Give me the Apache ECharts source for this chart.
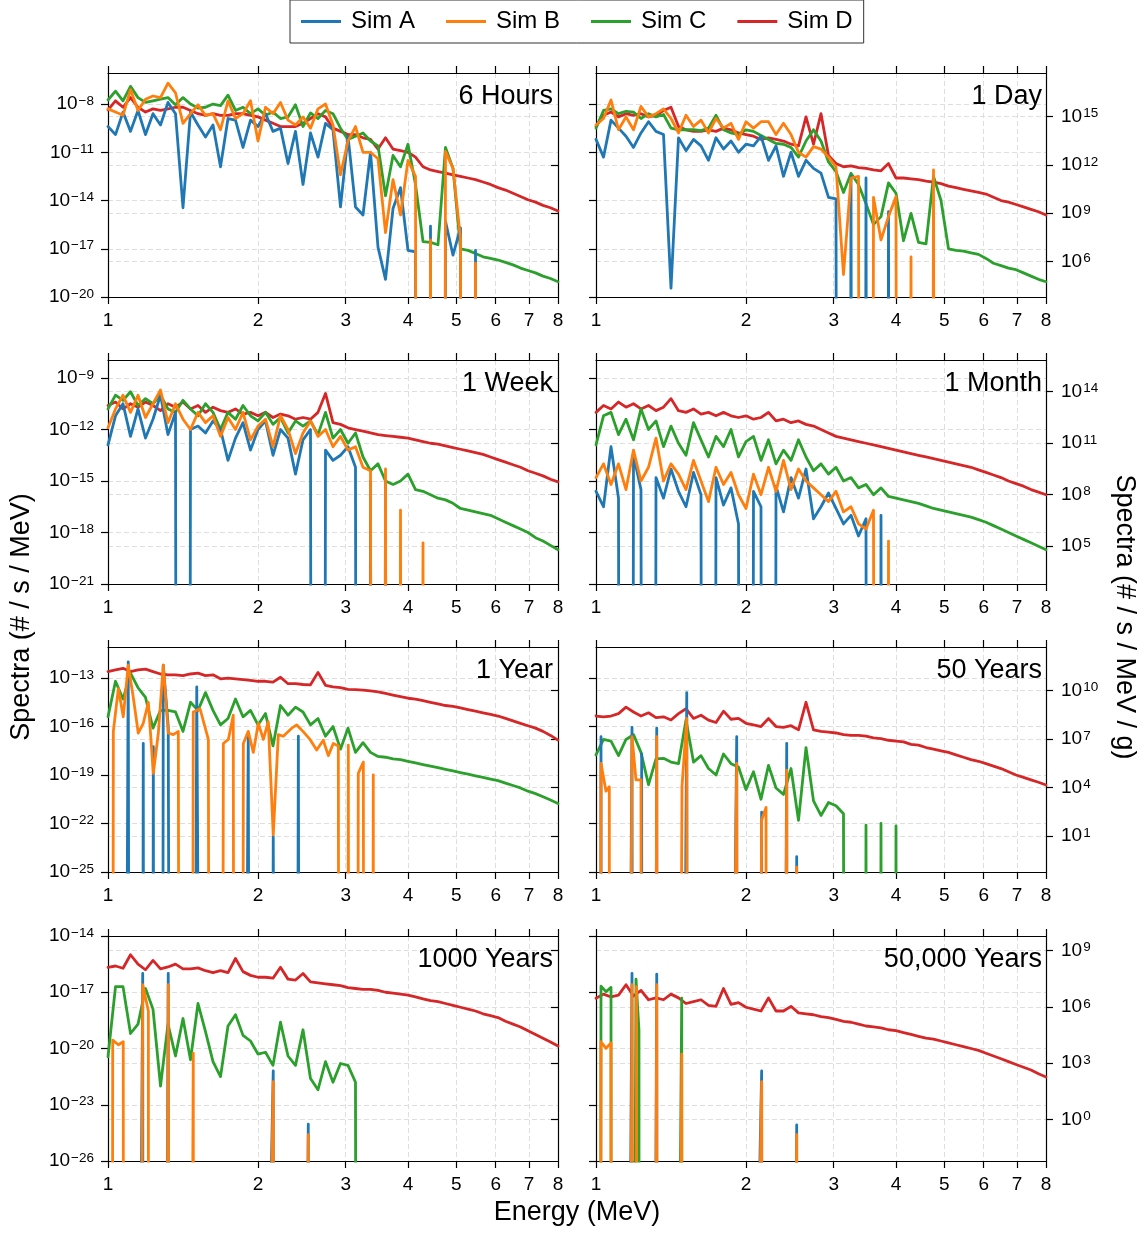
<!DOCTYPE html>
<html>
<head>
<meta charset="utf-8">
<title>Spectra</title>
<script src="https://cdn.jsdelivr.net/npm/echarts@6/dist/echarts.min.js"></script>
<style>
html, body { margin: 0; background: #fff; }
#chart { width: 1145px; height: 1235px; }
</style>
</head>
<body>
<div id="chart"></div>
<script>
// all spectra are log10(# / s / MeV); Z marks an empty bin (log10 of 0)
const Z = -Infinity;

// energy bins (MeV) shared by the dense series
const energy = [1.0000, 1.0353, 1.0718, 1.1096, 1.1487, 1.1892, 1.2311, 1.2746, 1.3195, 1.3661,
  1.4142, 1.4641, 1.5157, 1.5692, 1.6245, 1.6818, 1.7411, 1.8025, 1.8661, 1.9319,
  2.0000, 2.0705, 2.1435, 2.2191, 2.2974, 2.3784, 2.4623, 2.5491, 2.6390, 2.7321,
  2.8284, 2.9282, 3.0314, 3.1383, 3.2490, 3.3636, 3.4822, 3.6050, 3.7321, 3.8637,
  4.0000, 4.1411, 4.2871, 4.4383, 4.5948, 4.7568, 4.9246, 5.0982, 5.2780, 5.4642,
  5.6569, 5.8563, 6.0629, 6.2767, 6.4980, 6.7272, 6.9644, 7.2100, 7.4643, 7.7275,
  8.0000];

// ---- 6 Hours
const a6h = [-9.4, -9.9, -8.5, -9.7, -8.4, -9.9, -8.6, -9.3, -7.9, -8.6,
  -14.45, -8.5, -9.3, -10.05, -9.3, -11.9, -8.9, -9.0, -10.7, -9.0,
  -9.4, -8.6, -9.7, -9.5, -11.7, -9.7, -13.0, -9.8, -11.3, -9.2,
  -9.6, -14.4, -10.0, -14.4, -14.9, -11.0, -16.9, -18.9, -14.5, -13.2,
  -17.1, -17.2, Z, -15.6, Z, -15.3, -17.4, -15.7, Z, -17.1,
  Z, Z, Z, Z, Z, Z, Z, Z, Z, Z, Z];
const b6h = [-8.3, -8.5, -8.7, -7.1, -8.4, -7.7, -7.5, -7.6, -6.7, -7.3,
  -9.2, -8.6, -8.05, -8.7, -8.6, -9.6, -7.8, -8.9, -8.6, -7.8,
  -10.3, -8.2, -8.6, -7.9, -9.0, -9.3, -8.8, -9.5, -8.3, -8.0,
  -9.3, -12.4, -10.3, -9.4, -11.0, -11.0, -11.4, -16.0, -12.7, -14.9,
  -11.5, -12.5, Z, -16.45, Z, -10.95, -12.0, -16.35, Z, -17.9,
  Z, Z, Z, Z, Z, Z, Z, Z, Z, Z, Z];
const c6h = [-7.75, -7.2, -7.8, -6.9, -7.6, -7.9, -7.8, -7.7, -7.6, -8.05,
  -7.6, -8.0, -8.25, -8.2, -8.0, -8.1, -7.45, -8.4, -8.2, -8.6,
  -8.3, -8.7, -8.5, -8.9, -8.8, -8.05, -9.4, -8.55, -8.9, -8.4,
  -8.6, -9.5, -10.2, -10.0, -9.8, -10.3, -10.6, -13.7, -11.2, -11.9,
  -10.5, -13.0, -16.55, -16.6, -16.75, -10.7, -12.0, -17.0, -17.1, -17.3,
  -17.5, -17.6, -17.7, -17.85, -18.0, -18.2, -18.35, -18.5, -18.7, -18.85,
  -19.05];
const d6h = [-8.37, -7.8, -8.2, -7.6, -8.2, -8.5, -8.3, -8.4, -8.3, -8.2,
  -8.2, -8.4, -8.6, -8.7, -8.6, -8.7, -8.7, -8.6, -8.6, -8.7,
  -8.8, -9.0, -9.2, -9.4, -9.4, -9.4, -9.2, -8.9, -8.6, -8.8,
  -9.5, -9.7, -9.9, -9.9, -10.1, -10.2, -10.8, -10.1, -10.8, -10.9,
  -11.0, -11.3, -11.9, -12.1, -12.2, -12.3, -12.4, -12.5, -12.6, -12.7,
  -12.85, -13.0, -13.2, -13.35, -13.55, -13.75, -13.95, -14.1, -14.3, -14.45,
  -14.65];

// ---- 1 Day
const a1d = [-10.2, -11.3, -9.0, -9.5, -10.0, -10.7, -9.8, -9.1, -9.7, -9.9,
  -19.45, -10.1, -10.9, -10.2, -10.6, -11.5, -10.1, -10.8, -10.3, -11.0,
  -10.5, -10.6, -10.0, -11.5, -10.6, -12.5, -11.0, -12.5, -11.5, -12.0,
  -12.3, -13.8, -13.9, Z, -12.5, Z, -12.6, Z, Z, -14.7,
  Z, Z, Z, Z, Z, Z, Z, Z, Z, Z,
  Z, Z, Z, Z, Z, Z, Z, Z, Z, Z, Z];
const b1d = [-9.3, -8.9, -7.75, -9.6, -8.8, -9.6, -8.15, -8.8, -8.6, -8.3,
  -8.9, -9.8, -8.7, -9.4, -9.0, -9.8, -8.9, -9.5, -9.2, -10.2,
  -9.1, -9.5, -9.1, -9.1, -9.9, -9.2, -9.9, -11.0, -11.3, -10.65,
  -10.8, -11.3, -11.9, -18.6, -12.6, -12.5, Z, -13.8, -16.45, -15.0,
  -13.75, Z, -17.5, Z, Z, -12.1, Z, Z, Z, Z,
  Z, Z, Z, Z, Z, Z, Z, Z, Z, Z, Z];
const c1d = [-9.5, -8.4, -8.3, -8.6, -8.45, -8.5, -8.9, -8.6, -8.8, -8.65,
  -9.5, -9.6, -9.6, -9.6, -9.65, -9.5, -8.7, -9.6, -9.8, -9.9,
  -9.6, -9.7, -9.95, -10.2, -10.45, -10.5, -10.7, -11.3, -10.3, -9.6,
  -10.3, -11.6, -12.2, -13.5, -12.3, -13.0, -14.2, -15.5, -15.0, -12.9,
  -13.55, -16.5, -14.8, -16.6, -16.7, -12.5, -14.0, -17.0, -17.1, -17.15,
  -17.25, -17.35, -17.6, -17.9, -18.05, -18.2, -18.3, -18.5, -18.7, -18.9,
  -19.05];
const d1d = [-9.4, -8.7, -8.5, -8.8, -8.6, -8.7, -8.6, -8.8, -8.7, -8.4,
  -8.2, -9.4, -9.6, -9.7, -9.7, -9.6, -9.7, -9.5, -9.6, -9.8,
  -9.9, -10.0, -10.2, -10.1, -10.2, -10.3, -10.5, -10.6, -8.8, -10.5,
  -8.6, -11.2, -11.7, -11.9, -11.85, -11.95, -12.0, -12.1, -12.15, -11.7,
  -12.6, -12.6, -12.65, -12.7, -12.8, -12.85, -12.95, -13.1, -13.2, -13.3,
  -13.4, -13.5, -13.6, -13.8, -14.0, -14.1, -14.25, -14.4, -14.55, -14.7,
  -14.9];

// ---- 1 Week
const a1w = [-12.9, -11.2, -10.5, -12.4, -10.8, -12.5, -11.4, -10.0, -12.3, -11.0,
  Z, -12.0, -11.8, -12.2, -11.5, -12.0, -13.8, -12.5, -11.6, -13.2,
  -12.0, -11.5, -13.5, -12.0, -12.5, -14.6, -12.6, -12.0, Z, -13.2,
  -13.8, -13.5, -13.0, -14.2, Z, -15.0, Z, -15.0, Z, Z,
  Z, Z, Z, Z, Z, Z, Z, Z, Z, Z,
  Z, Z, Z, Z, Z, Z, Z, Z, Z, Z, Z];
const b1w = [-11.9, -10.8, -10.0, -11.0, -10.0, -11.3, -10.5, -9.7, -11.6, -10.5,
  -11.4, -12.0, -11.0, -11.6, -11.2, -12.4, -11.3, -12.0, -11.0, -12.6,
  -11.8, -11.4, -13.0, -11.2, -12.0, -13.4, -12.2, -11.5, -12.4, -12.0,
  -13.0, -12.4, -13.2, -13.0, -14.2, -14.4, Z, -14.3, Z, -16.7,
  Z, Z, -18.6, Z, Z, Z, Z, Z, Z, Z,
  Z, Z, Z, Z, Z, Z, Z, Z, Z, Z, Z];
const c1w = [-10.8, -10.0, -10.3, -9.8, -10.6, -10.2, -10.5, -10.0, -10.8, -11.0,
  -10.3, -10.8, -11.2, -10.5, -11.0, -12.0, -11.0, -11.4, -10.6, -11.2,
  -11.5, -11.0, -11.7, -11.3, -12.2, -11.5, -11.8, -11.5, -12.3, -11.0,
  -12.5, -12.0, -12.8, -12.2, -13.6, -14.4, -14.0, -15.0, -15.2, -15.0,
  -14.6, -15.5, -15.6, -15.8, -16.0, -16.1, -16.3, -16.6, -16.7, -16.8,
  -16.9, -17.0, -17.2, -17.4, -17.6, -17.8, -18.0, -18.3, -18.5, -18.75,
  -19.0];
const d1w = [-10.6, -10.4, -10.8, -10.5, -10.7, -10.4, -10.6, -10.9, -10.5, -10.7,
  -10.4, -10.8, -10.6, -11.0, -10.7, -10.9, -11.0, -10.8, -11.1, -11.0,
  -11.2, -11.0, -11.3, -11.1, -11.2, -11.4, -11.3, -11.4, -11.0, -9.9,
  -11.6, -11.7, -11.9, -12.0, -12.1, -12.2, -12.3, -12.35, -12.4, -12.45,
  -12.5, -12.6, -12.7, -12.8, -12.85, -12.95, -13.05, -13.15, -13.25, -13.35,
  -13.45, -13.6, -13.75, -13.9, -14.05, -14.2, -14.4, -14.55, -14.7, -14.9,
  -15.05];

// ---- 1 Month
const a1m = [-15.6, -16.5, -13.0, -16.0, Z, -13.5, -15.5, Z, -14.8, -16.0,
  -14.3, -15.6, -16.5, -14.5, -15.8, Z, -14.8, -16.4, -15.4, -17.5,
  Z, -15.6, -16.5, Z, -15.3, -16.8, -14.8, -16.0, -14.3, -17.2,
  -16.5, -15.7, -16.6, -17.5, -17.0, -18.2, -17.2, Z, -17.0, Z,
  Z, Z, Z, Z, Z, Z, Z, Z, Z, Z,
  Z, Z, Z, Z, Z, Z, Z, Z, Z, Z, Z];
const b1m = [-14.8, -14.0, -15.2, -14.0, -15.5, -13.2, -15.0, -14.2, -12.5, -15.0,
  -14.0, -14.6, -15.5, -13.8, -15.0, -16.2, -14.2, -15.2, -14.5, -15.8,
  -16.6, -14.6, -15.8, -14.2, -15.6, -13.8, -15.5, -14.3, -15.0, -15.4,
  -15.8, -16.2, -15.6, -16.8, -16.5, -17.5, -17.8, -16.7, Z, -18.5,
  Z, Z, Z, Z, Z, Z, Z, Z, Z, Z,
  Z, Z, Z, Z, Z, Z, Z, Z, Z, Z, Z];
const c1m = [-12.9, -11.2, -11.0, -12.3, -11.4, -12.6, -10.8, -12.0, -11.5, -13.0,
  -11.8, -12.8, -13.5, -11.6, -12.6, -13.6, -12.4, -13.0, -12.0, -13.6,
  -12.7, -12.4, -13.8, -12.6, -14.0, -13.2, -13.8, -12.6, -13.6, -14.4,
  -14.0, -14.6, -14.2, -15.0, -14.8, -15.4, -15.2, -15.8, -15.4, -15.9,
  -16.0, -16.1, -16.2, -16.3, -16.45, -16.6, -16.7, -16.8, -16.9, -17.0,
  -17.1, -17.25, -17.4, -17.6, -17.8, -18.0, -18.2, -18.4, -18.6, -18.8,
  -19.0];
const d1m = [-11.0, -10.6, -10.8, -10.4, -10.7, -10.5, -10.8, -10.6, -10.9, -10.7,
  -10.2, -10.9, -11.0, -10.8, -11.1, -11.0, -11.2, -11.0, -11.2, -11.3,
  -11.2, -11.4, -11.3, -11.0, -11.5, -11.4, -11.6, -11.5, -11.7, -11.8,
  -12.0, -12.2, -12.4, -12.5, -12.6, -12.7, -12.8, -12.9, -13.0, -13.1,
  -13.2, -13.3, -13.4, -13.5, -13.6, -13.7, -13.8, -13.9, -14.0, -14.1,
  -14.2, -14.35, -14.5, -14.65, -14.8, -15.0, -15.15, -15.3, -15.5, -15.65,
  -15.8];

// ---- 1 Year (sparse series as [MeV, log10] pairs)
const a1y = [[1.0, Z], [1.098, -12.0], [1.14, Z], [1.177, -17.05], [1.2, Z], [1.233, -17.25], [1.26, Z],
  [1.291, -12.2], [1.321, -16.0], [1.4, Z], [1.507, -13.55], [1.7, Z], [1.912, -16.4], [2.0, Z],
  [2.146, -22.8], [2.3, Z], [2.41, -16.6], [2.5, Z], [8.0, Z]];
const b1y = [[1.0, Z], [1.025, -16.3], [1.049, -13.65], [1.073, -15.4], [1.098, -12.2], [1.124, -14.2],
  [1.150, -16.4], [1.177, -15.8], [1.205, -14.5], [1.233, -18.9], [1.262, -16.4], [1.291, -12.2],
  [1.321, -16.4], [1.352, -16.5], [1.384, -16.3], [1.43, Z], [1.483, -15.1], [1.530, -14.9],
  [1.590, -16.8], [1.65, Z], [1.704, -17.05], [1.744, -16.8], [1.784, -15.3], [1.83, Z],
  [1.869, -17.05], [1.912, -16.3], [1.957, -17.6], [2.003, -15.8], [2.050, -16.8], [2.097, -15.7],
  [2.146, -22.7], [2.197, -16.5], [2.248, -16.6], [2.337, -16.1], [2.392, -15.9], [2.462, -16.3],
  [2.543, -16.8], [2.623, -17.45], [2.704, -16.85], [2.768, -17.8], [2.832, -17.05], [2.899, -17.2],
  [2.97, Z], [3.036, -17.15], [3.1, Z], [3.179, -18.9], [3.254, -18.2], [3.33, Z], [3.407, -19.0],
  [3.45, Z], [8.0, Z]];
const c1y = [-15.4, -13.2, -14.3, -12.7, -13.6, -14.2, -16.1, -15.0, -15.0, -15.1,
  -16.3, -14.5, -15.0, -13.9, -15.0, -15.9, -15.5, -14.3, -15.4, -15.0,
  -15.9, -15.2, -17.2, -14.7, -15.3, -14.8, -15.1, -15.9, -15.5, -16.6,
  -16.0, -17.4, -16.1, -17.6, -17.0, -17.6, -17.85, -17.9, -18.0, -18.05,
  -18.15, -18.25, -18.35, -18.45, -18.55, -18.65, -18.75, -18.85, -18.95, -19.05,
  -19.15, -19.25, -19.35, -19.5, -19.65, -19.8, -20.0, -20.15, -20.35, -20.55,
  -20.76];
const d1y = [-12.6, -12.5, -12.4, -12.6, -12.5, -12.45, -12.6, -12.75, -12.8, -12.8,
  -12.85, -12.75, -12.7, -12.85, -12.8, -13.05, -13.0, -13.05, -13.1, -13.15,
  -13.2, -13.2, -13.25, -12.95, -13.35, -13.35, -13.4, -13.42, -12.65, -13.45,
  -13.55, -13.6, -13.7, -13.72, -13.75, -13.8, -13.85, -13.95, -14.05, -14.15,
  -14.25, -14.3, -14.4, -14.5, -14.6, -14.7, -14.75, -14.85, -14.95, -15.05,
  -15.15, -15.25, -15.35, -15.5, -15.65, -15.8, -15.95, -16.1, -16.3, -16.55,
  -16.84];

// ---- 50 Years
const a50y = [[1.0, Z], [1.0234, -16.63], [1.033, Z], [1.181, -16.05], [1.206, Z], [1.235, -17.7],
  [1.248, Z], [1.324, -16.1], [1.344, Z], [1.521, -13.9], [1.544, Z], [1.916, -16.63], [1.945, Z],
  [2.150, -21.3], [2.184, Z], [2.414, -17.04], [2.450, Z], [2.528, -24.05], [2.566, Z], [8.0, Z]];
const b50y = [[1.0, Z], [1.0234, -18.28], [1.0473, -20.0], [1.0634, -19.73], [1.077, Z],
  [1.181, -16.63], [1.203, -19.3], [1.231, -19.3], [1.248, Z], [1.324, -16.63], [1.344, Z],
  [1.488, -19.7], [1.521, -15.5], [1.544, Z], [1.916, -18.28], [1.945, Z], [2.150, -21.8],
  [2.194, -21.0], [2.224, Z], [2.414, -18.7], [2.450, Z], [2.528, -24.7], [2.566, Z], [8.0, Z]];
const c50y = [-17.76, -16.8, -16.9, -17.8, -16.8, -16.5, -17.6, -19.6, -18.0, -17.97,
  -18.2, -18.3, -15.6, -18.2, -17.8, -18.6, -19.0, -17.7, -18.3, -18.5,
  -19.9, -18.8, -20.5, -18.4, -19.8, -20.2, -18.6, -21.8, -17.3, -20.6,
  -21.5, -20.7, -20.9, -21.4, Z, Z, -22.1, Z, -22.0, Z,
  -22.15, Z, Z, Z, Z, Z, Z, Z, Z, Z,
  Z, Z, Z, Z, Z, Z, Z, Z, Z, Z, Z];
const d50y = [-15.35, -15.4, -15.35, -15.2, -14.8, -15.1, -15.35, -15.15, -15.45, -15.4,
  -15.6, -15.2, -14.9, -15.5, -15.3, -15.6, -15.75, -15.05, -15.55, -15.5,
  -15.8, -15.9, -16.0, -15.5, -16.0, -16.05, -15.95, -16.2, -14.5, -16.2,
  -16.3, -16.35, -16.4, -16.5, -16.55, -16.55, -16.6, -16.7, -16.75, -16.85,
  -16.9, -16.95, -17.1, -17.15, -17.3, -17.4, -17.5, -17.6, -17.75, -17.9,
  -18.05, -18.15, -18.3, -18.45, -18.6, -18.8, -19.0, -19.15, -19.3, -19.45,
  -19.62];

// ---- 1000 Years
const a1ky = [[1.0, Z], [1.174, -16.0], [1.19, Z], [1.321, -16.0], [1.34, Z], [2.146, -21.2],
  [2.17, Z], [2.523, -24.04], [2.55, Z], [8.0, Z]];
const b1ky = [[1.0, Z], [1.022, -19.55], [1.049, -19.8], [1.073, -19.64], [1.09, Z], [1.174, -16.6],
  [1.205, -18.0], [1.22, Z], [1.321, -16.6], [1.34, Z], [1.483, -20.25], [1.50, Z], [2.146, -21.77],
  [2.17, Z], [2.523, -24.6], [2.55, Z], [8.0, Z]];
const c1ky = [-20.44, -16.7, -16.7, -19.2, -18.7, -16.8, -17.9, -22.0, -18.7, -20.4,
  -18.4, -20.6, -17.6, -19.1, -20.7, -21.5, -18.8, -18.2, -19.3, -19.6,
  -20.3, -20.2, -20.9, -18.6, -20.4, -20.9, -19.0, -21.6, -22.2, -20.7,
  -21.8, -20.8, -20.9, -21.8, Z, Z, Z, Z, Z, Z,
  Z, Z, Z, Z, Z, Z, Z, Z, Z, Z,
  Z, Z, Z, Z, Z, Z, Z, Z, Z, Z, Z];
const d1ky = [-15.67, -15.6, -15.72, -15.0, -15.5, -15.8, -15.3, -15.75, -15.65, -15.5,
  -15.75, -15.75, -15.7, -15.85, -15.95, -15.85, -15.95, -15.2, -15.9, -16.1,
  -16.2, -16.2, -16.25, -15.67, -16.3, -16.35, -16.0, -16.45, -16.5, -16.55,
  -16.6, -16.65, -16.75, -16.8, -16.85, -16.85, -16.9, -17.0, -17.05, -17.1,
  -17.15, -17.25, -17.35, -17.45, -17.5, -17.6, -17.7, -17.8, -17.9, -18.0,
  -18.15, -18.25, -18.35, -18.55, -18.7, -18.85, -19.05, -19.25, -19.45, -19.65,
  -19.87];

// ---- 50,000 Years
const a50ky = [[1.0, Z], [1.181, -16.0], [1.192, Z], [1.324, -16.04], [1.344, Z], [2.150, -21.2],
  [2.184, Z], [2.528, -24.08], [2.566, Z], [8.0, Z]];
const b50ky = [[1.0, Z], [1.0234, -19.64], [1.0473, -19.99], [1.0718, -19.7], [1.082, Z],
  [1.181, -16.6], [1.192, Z], [1.206, -16.7], [1.22, Z], [1.324, -16.6], [1.344, Z], [1.486, -20.3],
  [1.501, Z], [2.150, -21.77], [2.184, Z], [2.528, -24.6], [2.566, Z], [8.0, Z]];
const c50ky = [[1.0, Z], [1.0234, -16.67], [1.0473, -16.97], [1.0718, -16.74], [1.082, Z],
  [1.203, -16.3], [1.2196, -19.0], [1.231, Z], [1.486, -17.32], [1.501, Z], [8.0, Z]];
const d50ky = [-17.32, -17.1, -17.25, -17.15, -16.6, -17.2, -16.9, -17.4, -17.3, -17.4,
  -17.1, -17.3, -17.6, -17.5, -17.4, -17.7, -17.75, -16.8, -17.65, -17.55,
  -17.8, -17.9, -18.0, -17.3, -18.0, -18.0, -17.75, -18.1, -18.15, -18.2,
  -18.3, -18.35, -18.45, -18.55, -18.6, -18.7, -18.8, -18.85, -18.9, -19.0,
  -19.05, -19.15, -19.25, -19.35, -19.45, -19.5, -19.6, -19.7, -19.8, -19.9,
  -20.0, -20.1, -20.25, -20.4, -20.55, -20.7, -20.85, -21.0, -21.15, -21.35,
  -21.52];

const panels = [
  { title: '6 Hours', sims: [a6h, b6h, c6h, d6h] },
  { title: '1 Day', sims: [a1d, b1d, c1d, d1d] },
  { title: '1 Week', sims: [a1w, b1w, c1w, d1w] },
  { title: '1 Month', sims: [a1m, b1m, c1m, d1m] },
  { title: '1 Year', sims: [a1y, b1y, c1y, d1y] },
  { title: '50 Years', sims: [a50y, b50y, c50y, d50y] },
  { title: '1000 Years', sims: [a1ky, b1ky, c1ky, d1ky] },
  { title: '50,000 Years', sims: [a50ky, b50ky, c50ky, d50ky] }
];

const simNames = ['Sim A', 'Sim B', 'Sim C', 'Sim D'];
const simColors = ['#1f77b4', '#ff7f0e', '#2ca02c', '#d62728'];
const simZ = [4, 5, 3, 2];

// y ranges per row, log10 of # / s / MeV, and the per-gram scale shift
const rowMin = [-20, -21, -25, -26];
const rowMax = [-6.07, -7.95, -11.08, -14];
const rowTicks = [[-20, -17, -14, -11, -8], [-21, -18, -15, -12, -9], [-25, -22, -19, -16, -13], [-26, -23, -20, -17, -14]];
const gramTicks = [[6, 9, 12, 15], [5, 8, 11, 14], [1, 4, 7, 10], [0, 3, 6, 9]];
const PER_GRAM = 23.78;
const energyTicks = [1, 2, 3, 4, 5, 6, 7, 8];

const FONT = '"Liberation Sans", Arial, Helvetica, sans-serif';
const FLOOR = -300;   // where empty bins are drawn, far below every axis
const colLeft = [108, 596];
const rowTop = [73, 360, 647, 936];
const plotH = [224, 224, 225, 225];

const AXIS = { color: '#000', width: 1.2 };
const GRIDLINE = { color: '#dedede', width: 1, type: [5, 3] };
const SUP = { e: { fontSize: 13.5, lineHeight: 10, verticalAlign: 'top', color: '#000', fontFamily: FONT, padding: [0, 0, 0, 1] } };

function sup(n) { return n < 0 ? '\u2212' + (-n) : String(n); }
function powLabel(v) { return '10{e|' + sup(Math.round(v)) + '}'; }

function toPoints(vals) {
  if (Array.isArray(vals[0])) {
    return vals.map(([e, v]) => [Math.log10(e), Number.isFinite(v) ? v : FLOOR]);
  }
  if (vals.length !== energy.length) console.warn('length mismatch', vals.length);
  return vals.map((v, i) => [Math.log10(energy[i]), Number.isFinite(v) ? v : FLOOR]);
}

const grids = [], xAxes = [], yAxes = [], series = [], titles = [];
const xTickPos = energyTicks.map(e => Math.log10(e));

panels.forEach((p, k) => {
  const row = Math.floor(k / 2), col = k % 2;
  grids.push({ left: colLeft[col], top: rowTop[row], width: 450, height: plotH[row], outerBoundsMode: 'none' });

  xAxes.push({
    type: 'value', gridIndex: k, position: 'bottom', min: 0, max: Math.log10(8),
    axisLine: { show: true, onZero: false, lineStyle: AXIS },
    axisTick: { show: true, customValues: xTickPos, length: 7, lineStyle: AXIS },
    axisLabel: {
      show: true, customValues: xTickPos, formatter: v => String(Math.round(Math.pow(10, v))),
      margin: 14, fontSize: 19, lineHeight: 20, color: '#000', fontFamily: FONT
    },
    splitLine: { show: true, lineStyle: GRIDLINE }
  });
  xAxes.push({
    type: 'value', gridIndex: k, position: 'top', min: 0, max: Math.log10(8),
    axisLine: { show: true, onZero: false, lineStyle: AXIS },
    axisTick: { show: true, customValues: xTickPos, length: 7, lineStyle: AXIS },
    axisLabel: { show: false }, splitLine: { show: false }
  });

  yAxes.push({
    type: 'value', gridIndex: k, position: 'left', min: rowMin[row], max: rowMax[row],
    axisLine: { show: true, onZero: false, lineStyle: AXIS },
    axisTick: { show: true, customValues: rowTicks[row], length: 7, lineStyle: AXIS },
    axisLabel: col === 0 ? {
      show: true, customValues: rowTicks[row], formatter: powLabel, margin: 14,
      fontSize: 19, lineHeight: 20, color: '#000', fontFamily: FONT, rich: SUP
    } : { show: false },
    splitLine: { show: true, lineStyle: GRIDLINE }
  });
  yAxes.push({
    type: 'value', gridIndex: k, position: 'right',
    min: rowMin[row] + PER_GRAM, max: rowMax[row] + PER_GRAM,
    axisLine: { show: true, onZero: false, lineStyle: AXIS },
    axisTick: { show: true, customValues: gramTicks[row], length: 7, inside: col === 0, lineStyle: AXIS },
    axisLabel: col === 1 ? {
      show: true, customValues: gramTicks[row], formatter: powLabel, margin: 15,
      fontSize: 19, lineHeight: 20, color: '#000', fontFamily: FONT, rich: SUP
    } : { show: false },
    splitLine: { show: true, lineStyle: GRIDLINE }
  });

  p.sims.forEach((vals, s) => {
    series.push({
      type: 'line', name: simNames[s], xAxisIndex: 2 * k, yAxisIndex: 2 * k,
      data: toPoints(vals), symbol: 'none', showSymbol: false, clip: true, z: simZ[s],
      lineStyle: { width: 2.8, color: simColors[s], join: 'round', cap: 'round' },
      itemStyle: { color: simColors[s] },
      emphasis: { disabled: true }, silent: true
    });
  });

  titles.push({
    text: p.title, right: col ? 103 : 592, top: rowTop[row] + 10, padding: 0,
    textStyle: { fontSize: 27, fontWeight: 'normal', color: '#000', fontFamily: FONT }
  });
});

const chart = echarts.init(document.getElementById('chart'), null, { renderer: 'canvas' });
chart.setOption({
  animation: false,
  backgroundColor: '#fff',
  textStyle: { fontFamily: FONT },
  title: titles,
  legend: {
    data: simNames, left: 290, top: 0, padding: [8, 11], itemGap: 31,
    itemWidth: 40, itemHeight: 3, icon: 'rect',
    borderColor: '#333', borderWidth: 1, borderRadius: 0,
    textStyle: { fontSize: 24, lineHeight: 27, color: '#000', fontFamily: FONT, padding: [0, 0, 0, 5] }
  },
  grid: grids,
  xAxis: xAxes,
  yAxis: yAxes,
  series: series,
  graphic: [
    { type: 'text', x: 577, y: 1213, style: { text: 'Energy (MeV)', fontSize: 27, fontFamily: FONT, fill: '#000', align: 'center', verticalAlign: 'middle', textAlign: 'center', textVerticalAlign: 'middle' } },
    { type: 'text', x: 22, y: 617, rotation: Math.PI / 2, style: { text: 'Spectra (# / s / MeV)', fontSize: 27, fontFamily: FONT, fill: '#000', align: 'center', verticalAlign: 'middle', textAlign: 'center', textVerticalAlign: 'middle' } },
    { type: 'text', x: 1124, y: 617, rotation: -Math.PI / 2, style: { text: 'Spectra (# / s / MeV / g)', fontSize: 27, fontFamily: FONT, fill: '#000', align: 'center', verticalAlign: 'middle', textAlign: 'center', textVerticalAlign: 'middle' } }
  ]
});
</script>
</body>
</html>
